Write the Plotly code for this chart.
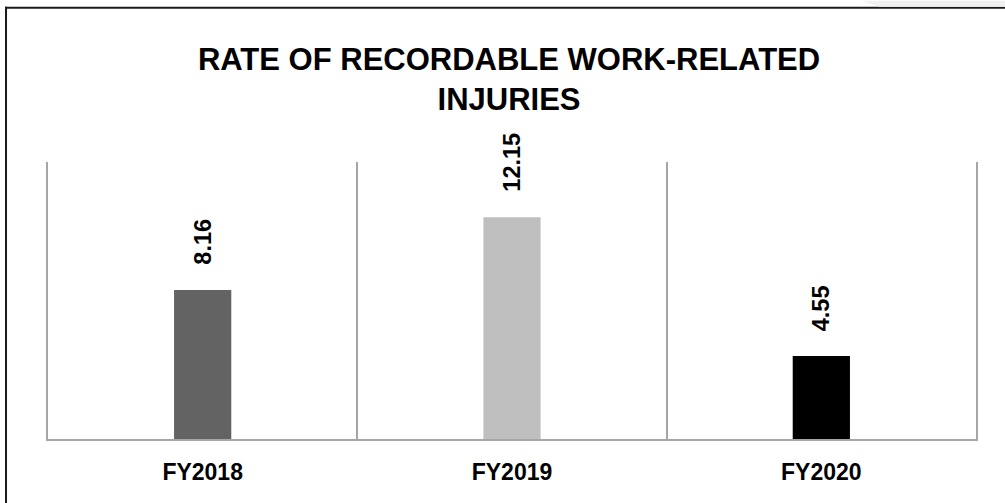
import plotly.graph_objects as go

# Chart data
years = ['FY2018', 'FY2019', 'FY2020']
rates = [8.16, 12.15, 4.55]
bar_colors = ['#636363', '#bfbfbf', '#000000']
title_text = 'RATE OF RECORDABLE WORK-RELATED<br>INJURIES'

W, H = 1005, 503
L, R, T, B = 48, 976.5, 161.5, 439


def px(x):
    # pixel x -> paper x
    return (x - L) / (R - L)


def py(y):
    # pixel y -> paper y
    return (B - y) / (B - T)


fig = go.Figure()
fig.add_trace(go.Bar(x=years, y=rates, marker_color=bar_colors, marker_line_width=0,
                     width=0.185, hoverinfo='x+y'))

# Value labels, rotated, above each bar
for yr, v in zip(years, rates):
    fig.add_annotation(x=yr, y=v, text='<b>%.2f</b>' % v, textangle=-90, showarrow=False,
                       yanchor='bottom', xanchor='center', yshift=23,
                       font=dict(family='Liberation Sans, Arial', size=23.5, color='#000000'))

# Frame around the picture: top and left edge only, plus the grey tab top right
fig.add_shape(type='line', xref='paper', yref='paper', x0=px(5), x1=px(W + 5), y0=py(7), y1=py(7),
              line=dict(color='#1a1a1a', width=2))
fig.add_shape(type='line', xref='paper', yref='paper', x0=px(6), x1=px(6), y0=py(6), y1=py(H + 5),
              line=dict(color='#1a1a1a', width=2))
fig.add_shape(type='path', xref='paper', yref='paper', line_width=0, fillcolor='#f0f0f0',
              path='M %f,%f L %f,%f L %f,%f L %f,%f Z' % (px(862), py(0), px(W + 5), py(0),
                                                         px(W + 5), py(6), px(880), py(6)))

fig.update_layout(
    width=W, height=H,
    margin=dict(l=L, r=W - R, t=T, b=H - B, pad=0),
    paper_bgcolor='white', plot_bgcolor='white',
    showlegend=False,
    title=dict(text='<b>' + title_text + '</b>', x=0.5065, xanchor='center', xref='container',
               y=1 - 70 / H, yanchor='top', yref='container',
               font=dict(family='Liberation Sans, Arial', size=31, color='#000000')),
    font=dict(family='Liberation Sans, Arial', color='#000000'),
    bargap=0.8,
)
fig.update_xaxes(type='category', tickson='boundaries', showgrid=True, gridcolor='#a6a6a6', gridwidth=1.5,
                 showline=True, linecolor='#a6a6a6', linewidth=1.5, ticks='', ticklabelstandoff=12,
                 tickfont=dict(family='Liberation Sans, Arial', size=23, color='#000000'),
                 tickprefix='<b>', ticksuffix='</b>', fixedrange=True)
fig.update_yaxes(range=[0, 15.17], showgrid=False, zeroline=False, showticklabels=False, ticks='',
                 showline=True, mirror=True, linecolor='#a6a6a6', linewidth=1.5, fixedrange=True)

# page without the default body margin so the figure sits at the window corner
fig.write_html('out.html', config={'displayModeBar': False},
               post_script="document.body.style.margin='0px';")
